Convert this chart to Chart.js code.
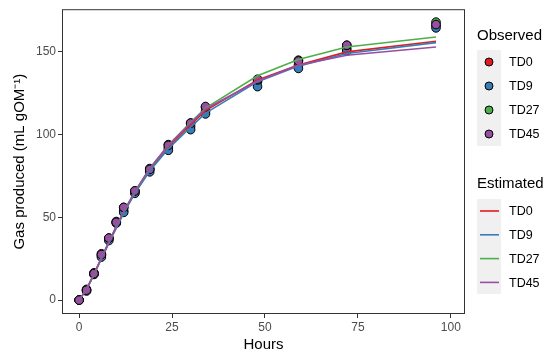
<!DOCTYPE html>
<html>
<head>
<meta charset="utf-8">
<script src="https://cdn.jsdelivr.net/npm/chart.js@4"></script>
<style>
  body { margin: 0; background: #fff; }
  #wrap { width: 550px; height: 354px; }
</style>
</head>
<body>
<div id="wrap"><canvas id="graph" width="550" height="354"></canvas></div>
<script>
// sampling times (h)
const hours = [0, 2, 4, 6, 8, 10, 12, 15, 19, 24, 30, 34, 48, 59, 72, 96];
const treatments = ["TD0", "TD9", "TD27", "TD45"];
const colors = ["#E41A1C", "#377EB8", "#4DAF4A", "#984EA3"];

// observed gas (mL gOM-1)
const obsTD0  = [0, 6, 16, 27, 37, 47, 54, 65, 79, 92, 105, 114, 132, 142, 152, 166];
const obsTD9  = [0, 5.5, 15.5, 26, 36, 46.5, 53, 64.5, 77.5, 90.5, 103, 112.5, 129, 140, 150.5, 164.5];
const obsTD27 = [0, 6.5, 16.5, 28, 37.5, 47.5, 56, 66, 79.5, 94, 107, 116.5, 133, 145, 154, 168];
const obsTD45 = [0, 6, 16, 27.5, 37.5, 47, 56, 66, 79, 93.5, 107, 117, 133.5, 144.5, 154, 166.5];

// estimated (model fit)
const estTD0  = [0, 6.5, 15.5, 25, 34.5, 44, 53, 65, 79, 92.5, 106, 114.5, 133, 142, 150, 156.4];
const estTD9  = [0, 6.5, 15.5, 25, 34.5, 43.5, 52.5, 64.5, 78, 91.5, 104.5, 113, 132, 141.4, 149, 155.6];
const estTD27 = [0, 6.5, 15.5, 25.5, 35, 44.5, 53.5, 65.5, 79.5, 93.5, 107.5, 116, 135.6, 145.4, 153, 159];
const estTD45 = [0, 6.5, 16, 25.5, 35, 44.5, 53.5, 65.5, 79.5, 93.5, 107, 115.5, 132.4, 142, 148, 153];

const yTicks = [0, 50, 100, 150];
const xTicks = [0, 25, 50, 75, 100];

const observed = [obsTD0, obsTD9, obsTD27, obsTD45];
const estimated = [estTD0, estTD9, estTD27, estTD45];

function toXY(vals) {
  return hours.map((h, i) => ({ x: h, y: vals[i] }));
}

let datasets = [];
treatments.forEach((t, i) => {
  datasets.push({
    label: "Observed " + t,
    data: toXY(observed[i]),
    showLine: false,
    pointRadius: 4.3,
    pointBackgroundColor: colors[i],
    pointBorderColor: "#000",
    pointBorderWidth: 1,
    order: 8 - i
  });
});
treatments.forEach((t, i) => {
  datasets.push({
    label: "Estimated " + t,
    data: toXY(estimated[i]),
    showLine: true,
    borderColor: colors[i],
    borderWidth: 1.6,
    pointRadius: 0,
    tension: 0,
    order: 4 - i
  });
});

const font = "'Liberation Sans', Arial, sans-serif";

// border round the panel + the two legends on the right
const decor = {
  id: "decor",
  afterDraw(chart) {
    const ctx = chart.ctx;
    const a = chart.chartArea;
    ctx.save();
    ctx.strokeStyle = "#333";
    ctx.lineWidth = 1;
    ctx.strokeRect(a.left + 0.5, a.top + 0.5, a.right - a.left - 1, a.bottom - a.top - 1);

    ctx.fillStyle = "#000";
    ctx.font = "15px " + font;
    ctx.textBaseline = "middle";
    ctx.textAlign = "left";
    ctx.fillText("Observed", 477, 36);
    ctx.fillText("Estimated", 477, 184);

    ctx.fillStyle = "#f0f0f0";
    ctx.fillRect(477, 50, 24, 96);
    ctx.fillRect(477, 199, 24, 95);

    ctx.font = "12.5px " + font;
    treatments.forEach((t, i) => {
      let y1 = 62 + i * 24;
      ctx.beginPath();
      ctx.arc(489, y1, 4, 0, Math.PI * 2);
      ctx.fillStyle = colors[i];
      ctx.fill();
      ctx.strokeStyle = "#000";
      ctx.lineWidth = 1;
      ctx.stroke();
      ctx.fillStyle = "#000";
      ctx.fillText(t, 509, y1 + 1);

      let y2 = 211 + i * 23.8;
      ctx.beginPath();
      ctx.moveTo(480, y2);
      ctx.lineTo(499, y2);
      ctx.strokeStyle = colors[i];
      ctx.lineWidth = 1.6;
      ctx.stroke();
      ctx.fillStyle = "#000";
      ctx.fillText(t, 509, y2 + 1);
    });
    ctx.restore();
  }
};

new Chart(document.getElementById("graph"), {
  type: "line",
  data: { datasets: datasets },
  options: {
    responsive: false,
    animation: false,
    layout: { padding: { left: 0, top: 7, right: 85, bottom: 0 } },
    plugins: { legend: { display: false }, tooltip: { enabled: false } },
    scales: {
      x: {
        type: "linear",
        min: -4.6,
        max: 103.8,
        afterBuildTicks: s => { s.ticks = xTicks.map(v => ({ value: v })); },
        afterFit: s => { s.height = 40; },
        grid: { drawOnChartArea: false, drawTicks: true, tickLength: 4, color: "#333" },
        border: { display: false },
        ticks: { color: "#4d4d4d", font: { family: font, size: 12 }, padding: 2, maxRotation: 0 },
        title: { display: true, text: "Hours", color: "#000", font: { family: font, size: 15 }, padding: { top: 0, bottom: 0 } }
      },
      y: {
        min: -8.4,
        max: 175.8,
        afterBuildTicks: s => { s.ticks = yTicks.map(v => ({ value: v })); },
        afterFit: s => { s.width = 62; },
        grid: { drawOnChartArea: false, drawTicks: true, tickLength: 4, color: "#333" },
        border: { display: false },
        ticks: { color: "#4d4d4d", font: { family: font, size: 12 }, padding: 2 },
        title: { display: true, text: "Gas produced (mL gOM⁻¹)", color: "#000", font: { family: font, size: 15 }, padding: { top: 11, bottom: 0 } }
      }
    }
  },
  plugins: [decor]
});
</script>
</body>
</html>
